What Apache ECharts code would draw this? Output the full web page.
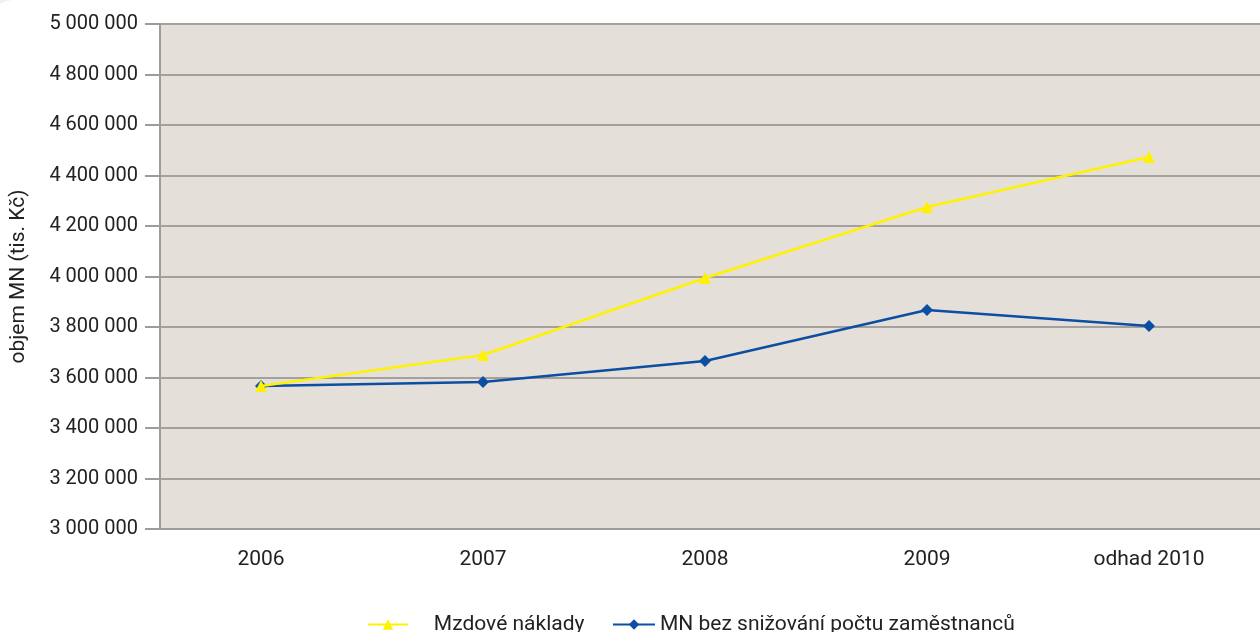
<!DOCTYPE html>
<html>
<head>
<meta charset="utf-8">
<script src="https://cdn.jsdelivr.net/npm/echarts@6/dist/echarts.min.js"></script>
<style>
  html, body { margin: 0; padding: 0; background: #edf2f0; }
  #container { width: 1260px; height: 632px; }
</style>
</head>
<body>
<div id="container"></div>
<script>
// roky
var years = ['2006', '2007', '2008', '2009', 'odhad 2010'];
// Mzdové náklady (tis. Kč)
var mzdoveNaklady = [3566000, 3689000, 3994000, 4275000, 4473000];
// MN bez snižování počtu zaměstnanců
var mnBezSnizovani = [3566000, 3582000, 3665000, 3867000, 3804000];
var yTicks = { min: 3000000, max: 5000000, step: 200000 };

var fmtNum = function (v) {
    return String(v).replace(/\B(?=(\d{3})+(?!\d))/g, ' ');
};

var fontName = 'Roboto';
var charts = echarts.init(document.getElementById('container'));
charts.setOption({
    backgroundColor: 'transparent',
    animation: false,
    graphic: [
        { type: 'rect', z: -20, silent: true,
          shape: { x: -12, y: 0, width: 1300, height: 700, r: [26, 0, 0, 0] },
          style: { fill: '#ffffff' } },
        // pozadí plochy grafu
        { type: 'rect', z: -10, silent: true,
          shape: { x: 160, y: 24, width: 1100, height: 505 },
          style: { fill: '#e5dfda' } }
    ],
    grid: { left: 150, right: 0, top: 24, bottom: 103, containLabel: false },
    legend: [{
        data: ['Mzdové náklady'],
        left: 362, top: 609,
        itemWidth: 40, itemHeight: 13,
        formatter: '    {name}',
        textStyle: { fontFamily: fontName, fontSize: 21, color: '#222' }
    }, {
        data: ['MN bez snižování počtu zaměstnanců'],
        left: 607, top: 609,
        itemWidth: 42, itemHeight: 13,
        textStyle: { fontFamily: fontName, fontSize: 21, color: '#222' }
    }],
    xAxis: {
        type: 'category',
        data: years,
        boundaryGap: true,
        axisLine: { lineStyle: { color: '#9e9b98', width: 2 } },
        axisTick: {
            length: 10,
            interval: function (i) { return i !== 0; },
            lineStyle: { color: '#555', width: 1.5 }
        },
        axisLabel: { margin: 20, fontFamily: fontName, fontSize: 21, color: '#222' }
    },
    yAxis: {
        type: 'value',
        min: yTicks.min, max: yTicks.max, interval: yTicks.step,
        offset: -10,
        name: 'objem MN (tis. Kč)',
        nameLocation: 'middle',
        nameGap: 131,
        nameTextStyle: { fontFamily: fontName, fontSize: 21, color: '#222' },
        axisLine: { show: true, lineStyle: { color: '#9e9b98', width: 2 } },
        axisTick: { show: true, length: 15, lineStyle: { color: '#9e9b98', width: 2 } },
        splitLine: { lineStyle: { color: '#a3a09d', width: 2 } },
        axisLabel: {
            margin: 22, fontFamily: fontName, fontSize: 20, color: '#222',
            formatter: fmtNum
        }
    },
    series: [{
        name: 'Mzdové náklady',
        type: 'line',
        data: mzdoveNaklady,
        z: 4,
        symbol: 'triangle',
        symbolSize: 12,
        lineStyle: { color: '#fff200', width: 2.5 },
        itemStyle: { color: '#fff200' }
    }, {
        name: 'MN bez snižování počtu zaměstnanců',
        type: 'line',
        data: mnBezSnizovani,
        z: 3,
        symbol: 'diamond',
        symbolSize: 12,
        lineStyle: { color: '#0b4ea2', width: 2.5 },
        itemStyle: { color: '#0b4ea2' }
    }]
});
</script>
</body>
</html>
